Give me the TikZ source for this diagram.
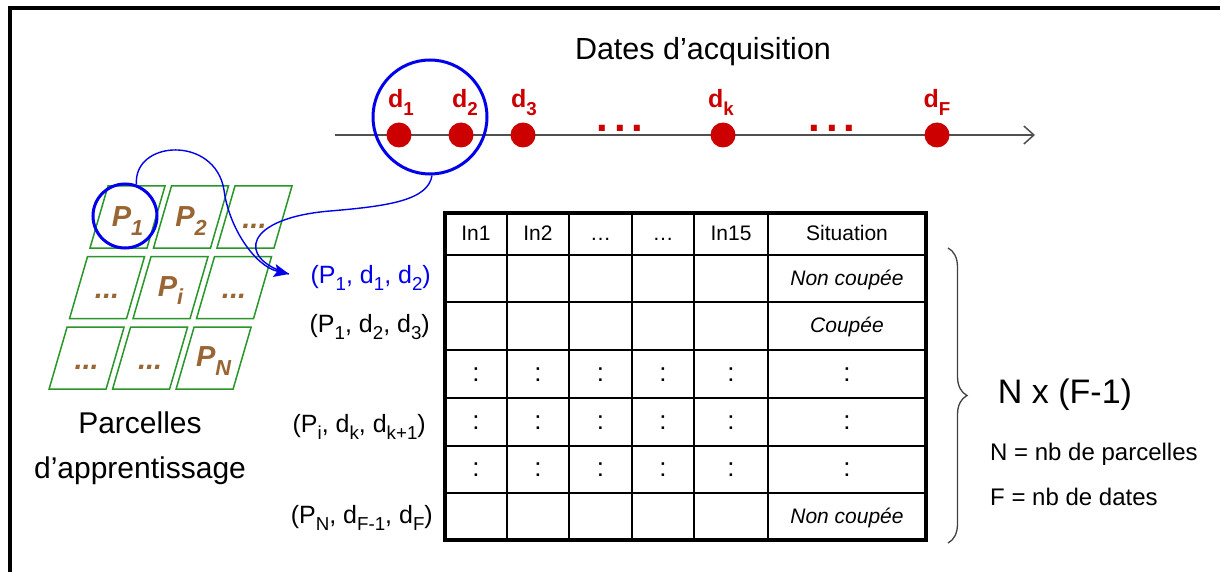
\documentclass[tikz,border=0pt]{standalone}
\usepackage{fontspec}
\setmainfont{Liberation Sans}
\usetikzlibrary{arrows.meta,calc,decorations.pathreplacing}
\definecolor{dred}{RGB}{204,0,0}
\definecolor{pblue}{RGB}{0,0,235}
\definecolor{pgreen}{RGB}{40,150,40}
\definecolor{pbrown}{RGB}{153,102,51}
\definecolor{axisgray}{RGB}{80,80,80}
\newcommand{\fsz}[1]{\fontsize{#1}{#1}\selectfont}
\makeatletter
\newcommand{\lsub}[1]{\raisebox{-0.3em}{\fontsize{\strip@pt\dimexpr\f@size pt*3/4\relax}{0pt}\selectfont #1}}
\makeatother
\begin{document}
\begin{tikzpicture}[x=1pt,y=-1pt,
  cellbox/.style={draw=pgreen, line width=1.5},
  plab/.style={font=\fsz{29}\bfseries\itshape, text=pbrown, inner sep=0},
  dlab/.style={font=\fsz{25}\bfseries, text=dred, inner sep=0, anchor=base},
  reddots/.style={font=\fsz{42}\bfseries, text=dred, inner sep=0},
  dotn/.style={circle, fill=dred, minimum size=25, inner sep=0},
  ringb/.style={circle, draw=pblue, line width=3, inner sep=0},
  link/.style={draw=pblue, line width=1.4},
  rowlab/.style={font=\fsz{25}, inner sep=0, anchor=base east},
  hdr/.style={font=\fsz{21}, inner sep=0, anchor=base},
  sit/.style={font=\fsz{21}\itshape, inner sep=0, anchor=base},
  colon/.style={font=\fsz{26}, inner sep=0},
  bigtxt/.style={font=\fsz{30}, inner sep=0, anchor=base},
  legtxt/.style={font=\fsz{24}, inner sep=0, anchor=base west}]
\useasboundingbox (0,0) rectangle (1220,572);
\fill[white] (0,0) rectangle (1220,572);
% frame
\draw[line width=3.5] (10,572) -- (10,8) -- (1220,8);

% title
\node[bigtxt, font=\fsz{30.5}] (title) at (703,60) {Dates d’acquisition};

% timeline
\coordinate (ax0) at (335,135);
\coordinate (ax1) at (1035,135);
\draw[axisgray, line width=1.8, -{Straight Barb[length=10pt,width=18pt,line width=1.5pt]}] (ax0) -- (ax1);
\node[dotn] (d1) at (399,135) {};
\node[dotn] (d2) at (461,135) {};
\node[dotn] (d3) at (523,135) {};
\node[dotn] (dk) at (723,135) {};
\node[dotn] (dF) at (937,135) {};
\node[dlab] (l1) at (401,108) {d\lsub{1}};
\node[dlab] (l2) at (465,108) {d\lsub{2}};
\node[dlab] (l3) at (524,108) {d\lsub{3}};
\node[dlab] (lk) at (721,108) {d\lsub{k}};
\node[dlab] (lF) at (937,108) {d\lsub{F}};
\node[reddots] (e1) at (620,128) {.\kern6pt.\kern6pt.};
\node[reddots] (e2) at (832,128) {.\kern6pt.\kern6pt.};

% parcel grid
\foreach \r in {0,1,2}{\foreach \c in {0,1,2}{
  \pgfmathsetmacro{\ty}{186+70.5*\r}
  \pgfmathsetmacro{\tx}{108+63.5*\c-0.29*70.5*\r}
  \draw[cellbox] (\tx,\ty) -- ++(57,0) -- ++(-18,62) -- ++(-57,0) -- cycle;
  \coordinate (cell\c\r) at (\tx+19.5,\ty+31);
}}
\node[plab] (p00) at ($(cell00)+(0,4)$) {P\lsub{1}};
\node[plab] (p10) at ($(cell10)+(0,4)$) {P\lsub{2}};
\node[plab] (p20) at ($(cell20)+(0,9)$) {...};
\node[plab] (p01) at ($(cell01)+(0,9)$) {...};
\node[plab] (p11) at ($(cell11)+(0,3)$) {P\lsub{i}};
\node[plab] (p21) at ($(cell21)+(0,9)$) {...};
\node[plab] (p02) at ($(cell02)+(0,9)$) {...};
\node[plab] (p12) at ($(cell12)+(0,9)$) {...};
\node[plab] (p22) at ($(cell22)+(0,3)$) {P\lsub{N}};

\node[bigtxt] (parc1) at (140,433) {Parcelles};
\node[bigtxt] (parc2) at (140,478) {d’apprentissage};

% circles
\node[ringb, minimum size=114] (bc) at (430,117) {};
\node[ringb, minimum size=64] (sc) at (125,216) {};

% links
\coordinate (tip) at (289,274);
\draw[link, -{Stealth[length=15pt,width=13pt,inset=3pt]}] (sc.70) .. controls (133,140) and (215,135) .. (224,190) .. controls (229,228) and (255,266) .. (tip);
\draw[link] (bc.272) .. controls (428,200) and (390,206) .. (330,211) .. controls (245,218) and (235,258) .. (tip);

% row labels
\node[rowlab, text=pblue] (r1) at (431,283) {(P\lsub{1}, d\lsub{1}, d\lsub{2})};
\node[rowlab] (r2) at (430,332) {(P\lsub{1}, d\lsub{2}, d\lsub{3})};
\node[rowlab] (r4) at (426,432) {(P\lsub{i}, d\lsub{k}, d\lsub{k+1})};
\node[rowlab] (r6) at (433,523) {(P\lsub{N}, d\lsub{F-1}, d\lsub{F})};

% table
\foreach \x in {507,569,632,694,768} \draw[line width=2] (\x,213) -- (\x,540);
\foreach \y in {255,302,350,398,446,493} \draw[line width=2] (445,\y) -- (926,\y);
\draw[line width=4] (445,213) rectangle (926,540);
\node[hdr] (h1) at (476,240) {In1};
\node[hdr] (h2) at (538,240) {In2};
\node[hdr] (h3) at (600.5,240) {…};
\node[hdr] (h4) at (663,240) {…};
\node[hdr] (h5) at (731,240) {In15};
\node[hdr] (h6) at (847,240) {Situation};
\node[sit] (s1) at (847,285) {Non coupée};
\node[sit] (s2) at (847,332) {Coupée};
\node[sit] (s6) at (847,523) {Non coupée};
\foreach \y [count=\j] in {375,423,470}{
  \foreach \x [count=\i] in {476,538,600.5,663,731,847}{
    \node[colon] (c\j\i) at (\x,\y) {:};
  }
}

% brace and legend
\coordinate (bt) at (948,248);
\coordinate (bb) at (948,543);
\draw[black!75, line width=1.3, decorate, decoration={brace, amplitude=19pt, aspect=0.5}] (bt) -- (bb);
\node[bigtxt, font=\fsz{34}] (nf) at (1065,403) {N x (F-1)};
\node[legtxt] (ln) at (990,460) {N = nb de parcelles};
\node[legtxt] (lf) at (990,505) {F = nb de dates};
\end{tikzpicture}
\end{document}
